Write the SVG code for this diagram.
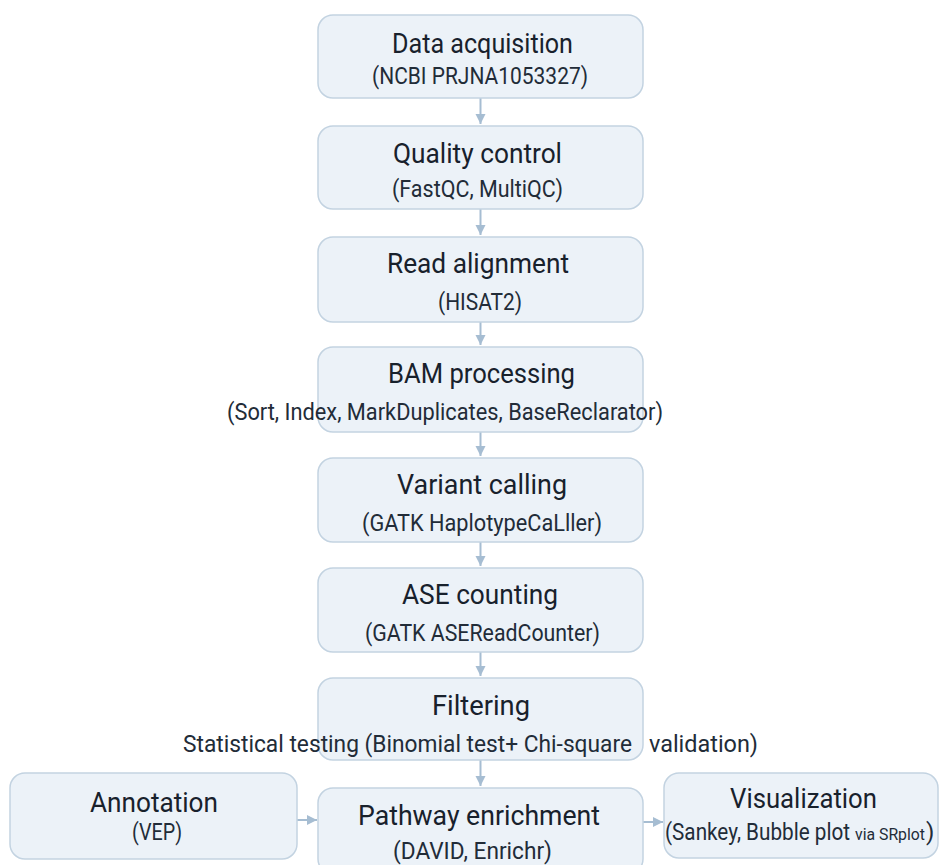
<svg xmlns="http://www.w3.org/2000/svg" width="940" height="865" viewBox="0 0 940 865">
<defs>
<style>
.box{fill:#ecf2f8;stroke:#c3d3e1;stroke-width:1.5}
.t{font-family:Roboto,"Liberation Sans",sans-serif;font-size:28px;fill:#18212c;text-anchor:middle}
.s{font-family:Roboto,"Liberation Sans",sans-serif;font-size:24px;fill:#222c38;text-anchor:middle}
.sl{font-family:Roboto,"Liberation Sans",sans-serif;font-size:24px;fill:#222c38}
.c{stroke:#a6bdd2;stroke-width:2;fill:none;marker-end:url(#ah)}
</style>
<marker id="ah" viewBox="0 0 10 10" refX="10" refY="5" markerWidth="10" markerHeight="14" markerUnits="userSpaceOnUse" orient="auto">
<path d="M0,0 L10,5 L0,10 z" fill="#a6bdd2"/>
</marker>
</defs>
<rect width="940" height="865" fill="#ffffff"/>
<g id="connectors">
<line class="c" x1="480.5" y1="98" x2="480.5" y2="124"/>
<line class="c" x1="480.5" y1="209" x2="480.5" y2="235"/>
<line class="c" x1="480.5" y1="322" x2="480.5" y2="345"/>
<line class="c" x1="480.5" y1="432" x2="480.5" y2="456"/>
<line class="c" x1="480.5" y1="542" x2="480.5" y2="566"/>
<line class="c" x1="480.5" y1="652" x2="480.5" y2="676"/>
<line class="c" x1="480.5" y1="760" x2="480.5" y2="786"/>
<line class="c" x1="297" y1="820" x2="317" y2="820"/>
<line class="c" x1="643" y1="822" x2="663" y2="822"/>
</g>
<g id="data-acquisition">
<rect class="box" x="318" y="15" width="325" height="83" rx="15"/>
<text class="t" x="482.5" y="53" textLength="181" lengthAdjust="spacingAndGlyphs">Data acquisition</text>
<text class="s" x="480" y="84" textLength="216" lengthAdjust="spacingAndGlyphs">(NCBI PRJNA1053327)</text>
</g>
<g id="quality-control">
<rect class="box" x="318" y="126" width="325" height="83" rx="15"/>
<text class="t" x="477.5" y="163" textLength="169" lengthAdjust="spacingAndGlyphs">Quality control</text>
<text class="s" x="477.5" y="197" textLength="171" lengthAdjust="spacingAndGlyphs">(FastQC, MultiQC)</text>
</g>
<g id="read-alignment">
<rect class="box" x="318" y="237" width="325" height="85" rx="15"/>
<text class="t" x="478" y="273" textLength="182" lengthAdjust="spacingAndGlyphs">Read alignment</text>
<text class="s" x="480" y="310" textLength="84" lengthAdjust="spacingAndGlyphs">(HISAT2)</text>
</g>
<g id="bam-processing">
<rect class="box" x="318" y="347" width="325" height="85" rx="15"/>
<text class="t" x="481.5" y="383" textLength="187" lengthAdjust="spacingAndGlyphs">BAM processing</text>
<text class="s" x="445" y="420" textLength="436" lengthAdjust="spacingAndGlyphs">(Sort, Index, MarkDuplicates, BaseReclarator)</text>
</g>
<g id="variant-calling">
<rect class="box" x="318" y="458" width="325" height="84" rx="15"/>
<text class="t" x="482" y="494" textLength="170" lengthAdjust="spacingAndGlyphs">Variant calling</text>
<text class="s" x="482" y="531" textLength="240" lengthAdjust="spacingAndGlyphs">(GATK HaplotypeCaLller)</text>
</g>
<g id="ase-counting">
<rect class="box" x="318" y="568" width="325" height="84" rx="15"/>
<text class="t" x="480" y="604" textLength="156" lengthAdjust="spacingAndGlyphs">ASE counting</text>
<text class="s" x="482.5" y="641" textLength="235" lengthAdjust="spacingAndGlyphs">(GATK ASEReadCounter)</text>
</g>
<g id="filtering">
<rect class="box" x="318" y="678" width="325" height="82" rx="15"/>
<text class="t" x="481" y="715" textLength="98" lengthAdjust="spacingAndGlyphs">Filtering</text>
<text class="sl" y="752"><tspan x="183" textLength="449" lengthAdjust="spacingAndGlyphs">Statistical testing (Binomial test+ Chi-square</tspan><tspan x="649" textLength="109" lengthAdjust="spacingAndGlyphs">validation)</tspan></text>
</g>
<g id="annotation">
<rect class="box" x="10" y="773" width="287" height="86" rx="15"/>
<text class="t" x="154" y="812" textLength="128" lengthAdjust="spacingAndGlyphs">Annotation</text>
<text class="s" x="157" y="840" textLength="50" lengthAdjust="spacingAndGlyphs">(VEP)</text>
</g>
<g id="pathway-enrichment">
<rect class="box" x="318" y="788" width="325" height="86" rx="15"/>
<text class="t" x="479" y="825" textLength="242" lengthAdjust="spacingAndGlyphs">Pathway enrichment</text>
<text class="s" x="472.5" y="859" textLength="159" lengthAdjust="spacingAndGlyphs">(DAVID, Enrichr)</text>
</g>
<g id="visualization">
<rect class="box" x="664" y="773" width="274" height="85" rx="15"/>
<text class="t" x="803.5" y="808" textLength="147" lengthAdjust="spacingAndGlyphs">Visualization</text>
<text class="sl" y="840"><tspan x="665" textLength="185" lengthAdjust="spacingAndGlyphs">(Sankey, Bubble plot</tspan><tspan x="855" font-size="16" textLength="70" lengthAdjust="spacingAndGlyphs">via SRplot</tspan><tspan x="926">)</tspan></text>
</g>
</svg>
